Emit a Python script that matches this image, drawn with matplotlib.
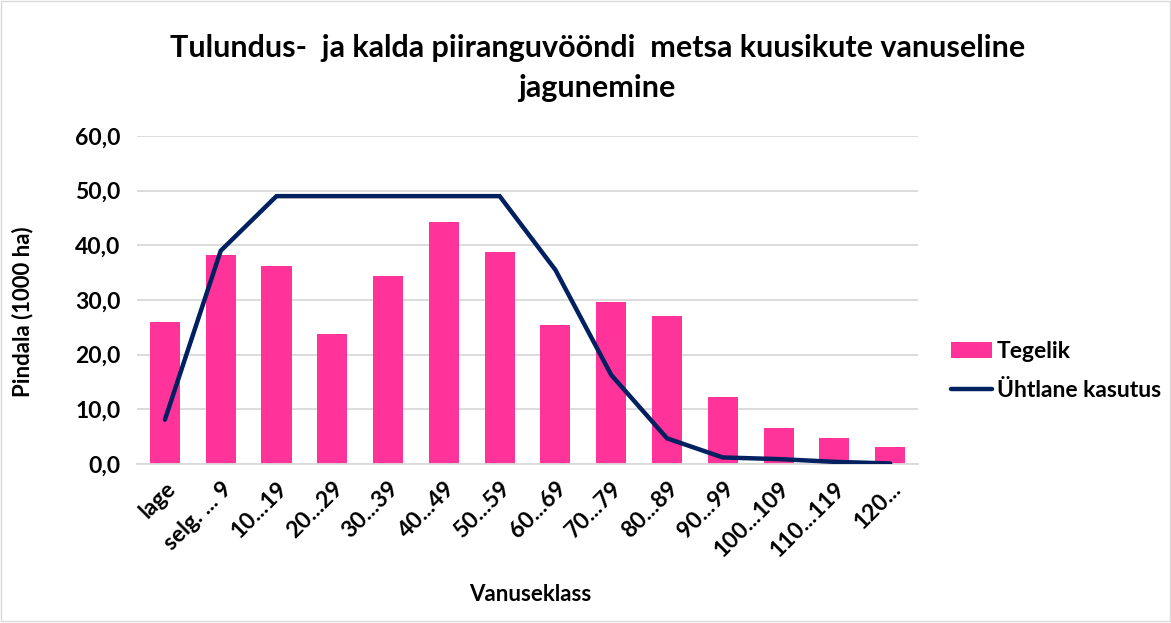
import matplotlib.pyplot as plt
from matplotlib.patches import Rectangle

plt.rcParams['font.family'] = ['Lato', 'DejaVu Sans']
plt.rcParams['font.weight'] = 'bold'

classes = ['lage', 'selg. ... 9', '10...19', '20...29', '30...39', '40...49', '50...59',
           '60...69', '70...79', '80...89', '90...99', '100...109', '110...119', '120...']
tegelik = [26.0, 38.3, 36.3, 23.7, 34.3, 44.3, 38.8, 25.4, 29.7, 27.1, 12.3, 6.6, 4.8, 3.1]
uhtlane = [8.1, 39.0, 49.0, 49.0, 49.0, 49.0, 49.0, 35.5, 16.3, 4.7, 1.2, 0.9, 0.4, 0.1]

fig = plt.figure(figsize=(11.71, 6.23), dpi=100)
ax = fig.add_axes([0.117, 0.2552, 0.667, 0.5265])

x = range(len(classes))
bars = ax.bar(x, tegelik, width=0.54, color='#FF3399', label='Tegelik', zorder=2)
line, = ax.plot(x, uhtlane, color='#002060', lw=3.2, solid_capstyle='round',
                solid_joinstyle='miter', label='Ühtlane kasutus', zorder=3)

ax.set_xlim(-0.5, len(classes) - 0.5)
ax.set_ylim(0, 60)
ax.set_yticks(range(0, 61, 10))
ax.set_yticklabels([f'{v},0' for v in range(0, 61, 10)], fontsize=16.5, fontweight='bold')
ax.yaxis.grid(True, color='#D9D9D9', lw=1.3, zorder=0)
ax.set_xticks(list(x))
ax.set_xticklabels(classes, rotation=45, ha='right', rotation_mode='anchor',
                   fontsize=16.5, fontweight='bold')
ax.tick_params(length=0, pad=10)
ax.tick_params(axis='y', pad=12)
for s in ['top', 'right', 'left']:
    ax.spines[s].set_visible(False)
ax.spines['bottom'].set_color('#D9D9D9')
ax.spines['bottom'].set_linewidth(1.3)

fig.text(0.0188, 0.50, 'Pindala (1000 ha)', rotation=90, ha='center', va='center',
         fontsize=16, fontweight='bold')
fig.text(0.4526, 0.045, 'Vanuseklass', ha='center', va='center',
         fontsize=16, fontweight='bold')
fig.text(0.51, 0.891, 'Tulundus-  ja kalda piiranguvööndi  metsa kuusikute vanuseline\njagunemine',
         ha='center', va='center', fontsize=22, fontweight='bold', linespacing=1.5)

fig.legend([bars, line], ['Tegelik', 'Ühtlane kasutus'], loc='center left',
           bbox_to_anchor=(0.812, 0.4045), frameon=False,
           prop={'size': 16.5, 'weight': 'bold'}, handlelength=1.8, handletextpad=0.2,
           labelspacing=0.75, borderpad=0, borderaxespad=0)

fig.add_artist(Rectangle((0.001, 0.004), 0.998, 0.994, transform=fig.transFigure,
                         fill=False, edgecolor='#D9D9D9', lw=1))

fig.savefig('out.png', dpi=100)
